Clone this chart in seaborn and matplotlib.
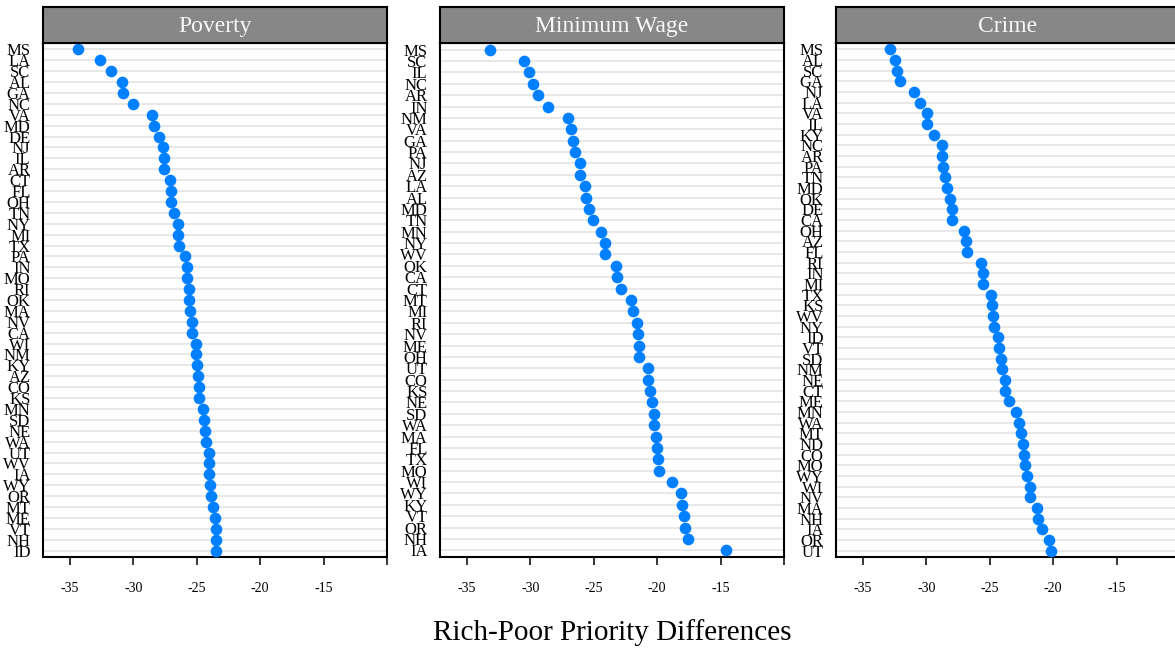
import numpy as np
import pandas as pd
import matplotlib
matplotlib.use('Agg')
import matplotlib.pyplot as plt
import seaborn as sns

# state ordering and rich-poor differences for each issue
poverty_states = ['MS', 'LA', 'SC', 'AL', 'GA', 'NC', 'VA', 'MD', 'DE', 'NJ', 'IL', 'AR',
                  'CT', 'FL', 'OH', 'TN', 'NY', 'MI', 'TX', 'PA', 'IN', 'MO', 'RI', 'OK',
                  'MA', 'NV', 'CA', 'WI', 'NM', 'KY', 'AZ', 'CO', 'KS', 'MN', 'SD', 'NE',
                  'WA', 'UT', 'WV', 'IA', 'WY', 'OR', 'MT', 'ME', 'VT', 'NH', 'ID']
poverty_vals = [-34.4, -32.6, -31.8, -30.9, -30.8, -30.0, -28.5, -28.4, -28.0, -27.65, -27.6, -27.55,
                -27.1, -27.05, -27.0, -26.8, -26.5, -26.5, -26.4, -25.9, -25.8, -25.75, -25.65, -25.6,
                -25.55, -25.4, -25.35, -25.1, -25.1, -25.0, -24.9, -24.85, -24.8, -24.5, -24.4, -24.35,
                -24.3, -24.0, -24.0, -24.0, -23.95, -23.85, -23.7, -23.55, -23.5, -23.5, -23.5]

wage_states = ['MS', 'SC', 'IL', 'NC', 'AR', 'IN', 'NM', 'VA', 'GA', 'PA', 'NJ', 'AZ',
               'LA', 'AL', 'MD', 'TN', 'MN', 'NY', 'WV', 'OK', 'CA', 'CT', 'MT', 'MI',
               'RI', 'NV', 'ME', 'OH', 'UT', 'CO', 'KS', 'NE', 'SD', 'WA', 'MA', 'FL',
               'TX', 'MO', 'WI', 'WY', 'KY', 'VT', 'OR', 'NH', 'IA']
wage_vals = [-33.2, -30.5, -30.1, -29.8, -29.4, -28.65, -27.0, -26.8, -26.65, -26.45, -26.1, -26.1,
             -25.7, -25.6, -25.4, -25.1, -24.4, -24.15, -24.1, -23.25, -23.15, -22.85, -22.1, -21.9,
             -21.6, -21.5, -21.4, -21.4, -20.75, -20.7, -20.55, -20.4, -20.25, -20.25, -20.1, -20.0,
             -19.95, -19.85, -18.8, -18.1, -18.05, -17.85, -17.8, -17.6, -14.55]

crime_states = ['MS', 'AL', 'SC', 'GA', 'NJ', 'LA', 'VA', 'IL', 'KY', 'NC', 'AR', 'PA',
                'TN', 'MD', 'OK', 'DE', 'CA', 'OH', 'AZ', 'FL', 'RI', 'IN', 'MI', 'TX',
                'KS', 'WV', 'NY', 'ID', 'VT', 'SD', 'NM', 'NE', 'CT', 'ME', 'MN', 'WA',
                'MT', 'ND', 'CO', 'MO', 'WY', 'WI', 'NV', 'MA', 'NH', 'IA', 'OR', 'UT']
crime_vals = [-32.9, -32.5, -32.3, -32.05, -31.0, -30.5, -29.97, -29.95, -29.4, -28.8, -28.8, -28.7,
              -28.5, -28.4, -28.1, -27.95, -27.95, -27.0, -26.9, -26.8, -25.7, -25.55, -25.5, -24.9,
              -24.8, -24.75, -24.7, -24.35, -24.3, -24.1, -24.0, -23.8, -23.8, -23.5, -22.9, -22.7,
              -22.55, -22.35, -22.3, -22.25, -22.1, -21.85, -21.8, -21.25, -21.2, -20.85, -20.3, -20.15]

panel_titles = ['Poverty', 'Minimum Wage', 'Crime']
x_ticks = [-35, -30, -25, -20, -15, -10]
x_tick_labels = ['-35', '-30', '-25', '-20', '-15', '']

sns.set_theme(style='white')
plt.rcParams['font.family'] = ['Liberation Serif', 'DejaVu Serif']
plt.rcParams['text.color'] = 'black'
plt.rcParams['xtick.color'] = 'black'
plt.rcParams['ytick.color'] = 'black'
plt.rcParams['xtick.labelcolor'] = 'black'
plt.rcParams['ytick.labelcolor'] = 'black'

fig = plt.figure(figsize=(11.75, 6.53), dpi=100)

panels = [(poverty_states, poverty_vals), (wage_states, wage_vals), (crime_states, crime_vals)]
lefts = [43 / 1175, 440 / 1175, 836 / 1175]
width = 344 / 1175
bottom = 1 - 557 / 653
height = (557 - 43) / 653

for left, title, (states, vals) in zip(lefts, panel_titles, panels):
    ax = fig.add_axes([left, bottom, width, height])
    df = pd.DataFrame({'state': states, 'diff': vals})
    sns.stripplot(data=df, x='diff', y='state', order=states, ax=ax, jitter=False,
                  color='#0080ff', size=8.4, linewidth=0, zorder=3)
    n = len(states)
    ax.set_ylim(n - 1 + 0.58, -0.58)
    ax.set_xlim(-37.13, -10.0)
    ax.set_xticks(x_ticks)
    ax.set_xticklabels(x_tick_labels, fontsize=10, color='black')
    ax.set_yticks(range(n))
    ax.set_yticklabels(states, fontsize=12, color='black')
    ax.set_xlabel('')
    ax.set_ylabel('')
    ax.yaxis.grid(True, color='#e6e6e6', lw=1.3)
    ax.xaxis.grid(False)
    ax.set_axisbelow(True)
    ax.tick_params(axis='y', length=0, pad=9)
    ax.tick_params(axis='x', direction='out', length=6, width=1.1, color='black',
                   pad=12, bottom=True)
    for sp in ax.spines.values():
        sp.set_color('black')
        sp.set_linewidth(1.5)
        sp.set_visible(True)

    strip = fig.add_axes([left, 1 - 43 / 653, width, 36 / 653])
    strip.set_facecolor('#878787')
    strip.set_xticks([])
    strip.set_yticks([])
    for sp in strip.spines.values():
        sp.set_color('black')
        sp.set_linewidth(1.5)
        sp.set_visible(True)
    strip.text(0.5, 0.45, title, transform=strip.transAxes, ha='center', va='center',
               fontsize=17, color='#f8f8f8')

fig.text(612 / 1175, 1 - 633 / 653, 'Rich-Poor Priority Differences', ha='center',
         va='center', fontsize=21, color='black')

fig.savefig('out.png', dpi=100)
